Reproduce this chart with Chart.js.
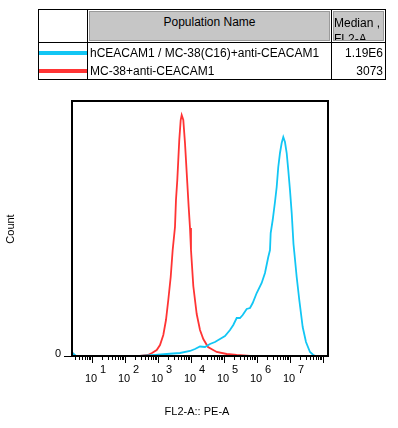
<!DOCTYPE html>
<html>
<head>
<meta charset="utf-8">
<script src="https://cdn.jsdelivr.net/npm/chart.js@4"></script>
<style>
  html, body { margin: 0; padding: 0; background: #fff; }
  body { width: 398px; height: 428px; position: relative; overflow: hidden;
         font-family: "Liberation Sans", Arial, sans-serif; font-size: 12px; color: #000; }
  #chart { position: absolute; left: 0; top: 0; }
  .abs { position: absolute; }
  .ln { position: absolute; background: #000; }
  .gray { position: absolute; background: #c6c6c6; border: 1px solid #9a9a9a; box-sizing: border-box; overflow: hidden; }
  .txt { position: absolute; white-space: nowrap; line-height: 14px; }
</style>
</head>
<body>
<canvas id="chart" width="398" height="428"></canvas>

<!-- population table -->
<div class="abs" style="left:38px;top:9px;width:348px;height:71px;border:1px solid #000;box-sizing:border-box;"></div>
<div class="ln" style="left:87px;top:9px;width:1px;height:71px;"></div>
<div class="ln" style="left:331px;top:9px;width:1px;height:71px;"></div>
<div class="ln" style="left:38px;top:42px;width:348px;height:1px;"></div>
<div class="gray" style="left:89px;top:11px;width:241px;height:30px;">
  <div class="txt" style="left:0;right:0;top:3px;text-align:center;">Population Name</div>
</div>
<div class="gray" style="left:333px;top:11px;width:51px;height:30px;">
  <div class="txt" style="left:0;top:3px;line-height:16px;white-space:normal;">Median ,<br>FL2-A</div>
</div>
<div class="abs" id="leg0" style="left:39px;top:51px;width:48px;height:4px;"></div>
<div class="abs" id="leg1" style="left:39px;top:69px;width:48px;height:4px;"></div>
<div class="txt" id="name0" style="left:90px;top:46px;"></div>
<div class="txt" id="name1" style="left:90px;top:64px;"></div>
<div class="txt" id="med0" style="right:15px;top:46px;"></div>
<div class="txt" id="med1" style="right:15px;top:64px;"></div>

<script>
// --- populations ---
const popNames = ['hCEACAM1 / MC-38(C16)+anti-CEACAM1', 'MC-38+anti-CEACAM1'];
const popMedians = ['1.19E6', '3073'];
const popColors = ['#12c6f4', '#ff3434'];

// --- histogram data (x in log10 decades of FL2-A, y = count) ---
const blueX = [0.409, 0.515, 2.455, 2.909, 3.264, 3.667, 3.970, 4.121, 4.273, 4.424, 4.576, 4.727,
  4.879, 5.030, 5.182, 5.282, 5.385, 5.485, 5.567, 5.688, 5.788, 5.870, 5.991, 6.142, 6.242,
  6.342, 6.394, 6.415, 6.476, 6.545, 6.597, 6.645, 6.697, 6.748, 6.797, 6.848, 6.900, 6.948,
  7.000, 7.052, 7.106, 7.130, 7.203, 7.282, 7.385, 7.485, 7.606, 7.706, 7.788, 8.152];
const blueY = [3, 0, 0, 1, 2, 3, 5, 7, 9.5, 9, 12, 14,
  17, 20, 26, 31, 38, 38, 41, 47, 48, 53, 63, 73, 83,
  99, 106, 123, 136, 154, 169, 189, 203, 213, 219, 214, 203, 186,
  166, 143, 112, 104, 79, 56, 29, 14, 4, 1, 0, 0];

const redX = [0.409, 0.485, 2.455, 2.697, 2.818, 2.961, 3.061, 3.161, 3.242, 3.312, 3.385, 3.445,
  3.515, 3.545, 3.585, 3.615, 3.645, 3.688, 3.718, 3.767, 3.818, 3.848, 3.888, 3.930, 3.970,
  4.000, 4.070, 4.173, 4.273, 4.373, 4.515, 4.779, 5.082, 5.385, 5.788, 8.152];
const redY = [3, 0, 0, 1, 3, 6, 11, 21, 36, 56, 79, 106,
  129, 156, 176, 196, 216, 236, 241, 236, 213, 196, 173, 149, 128,
  106, 70, 42, 26, 17, 9, 4, 2, 1, 0, 0];

// axis settings
const xMin = 0.394, xMax = 8.152;
const yMax = 255;
const decades = [1, 2, 3, 4, 5, 6, 7];

// fill table texts
popNames.forEach((n, i) => {
  document.getElementById('name' + i).textContent = n;
  document.getElementById('med' + i).textContent = popMedians[i];
  document.getElementById('leg' + i).style.background = popColors[i];
});

const toPoints = (xs, ys) => xs.map((x, i) => ({ x: x, y: ys[i] }));

// draws the box, log ticks and labels using the chart scales
const axisPlugin = {
  id: 'flowAxes',
  afterDraw(chart) {
    const ctx = chart.ctx;
    const xs = chart.scales.x, ys = chart.scales.y;
    const area = chart.chartArea;
    const y0 = ys.getPixelForValue(0);
    ctx.save();
    ctx.strokeStyle = '#000';
    ctx.lineWidth = 2;
    ctx.strokeRect(area.left, area.top, area.right - area.left, area.bottom - area.top);

    // x ticks
    ctx.lineWidth = 1;
    ctx.beginPath();
    for (let d = 0; d <= 8; d++) {
      for (let m = 1; m <= 9; m++) {
        const v = d + Math.log10(m);
        if (v < xMin || v > xMax) continue;
        const px = Math.round(xs.getPixelForValue(v)) + 0.5;
        const len = m === 1 ? 7 : 4;
        ctx.moveTo(px, y0);
        ctx.lineTo(px, y0 + len);
      }
    }
    // y zero tick
    ctx.moveTo(area.left - 8, y0 + 0.5);
    ctx.lineTo(area.left, y0 + 0.5);
    ctx.stroke();

    ctx.fillStyle = '#000';
    ctx.font = '11px "Liberation Sans", Arial, sans-serif';
    ctx.textBaseline = 'middle';
    decades.forEach(d => {
      const px = xs.getPixelForValue(d);
      ctx.textAlign = 'left';
      ctx.fillText('10', px - 7, 379);
      ctx.fillText(String(d), px + 8, 370);
    });

    ctx.textAlign = 'right';
    ctx.fillText('0', 61, y0 - 2);

    ctx.textAlign = 'center';
    ctx.fillText('FL2-A:: PE-A', 197, 412);

    ctx.translate(11, 229);
    ctx.rotate(-Math.PI / 2);
    ctx.fillText('Count', 0, 0);
    ctx.restore();
  }
};

new Chart(document.getElementById('chart'), {
  type: 'line',
  data: {
    datasets: [{
      label: popNames[0],
      data: toPoints(blueX, blueY),
      borderColor: popColors[0],
      borderWidth: 1.8,
      pointRadius: 0,
      tension: 0
    }, {
      label: popNames[1],
      data: toPoints(redX, redY),
      borderColor: popColors[1],
      borderWidth: 1.8,
      pointRadius: 0,
      tension: 0
    }]
  },
  options: {
    responsive: false,
    animation: false,
    layout: { padding: { left: 72, right: 70, top: 101, bottom: 72 } },
    plugins: { legend: { display: false }, tooltip: { enabled: false } },
    scales: {
      x: { type: 'linear', min: xMin, max: xMax, display: false },
      y: { min: 0, max: yMax, display: false }
    }
  },
  plugins: [axisPlugin]
});
</script>
</body>
</html>
